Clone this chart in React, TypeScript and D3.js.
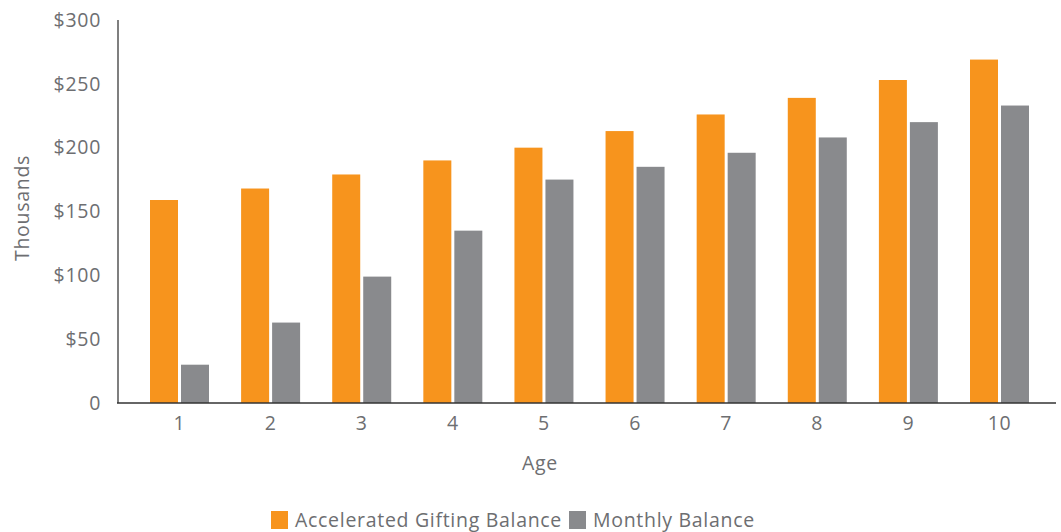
import React from "react";
import * as d3 from "d3";

const ages = ["1", "2", "3", "4", "5", "6", "7", "8", "9", "10"];
const acceleratedBalance = [159, 168, 179, 190, 200, 213, 226, 239, 253, 269];
const monthlyBalance = [30, 63, 99, 135, 175, 185, 196, 208, 220, 233];
const yTicks = [0, 50, 100, 150, 200, 250, 300];
const seriesNames = ["Accelerated Gifting Balance", "Monthly Balance"];
const seriesColors = ["#F7941D", "#898A8D"];

const W = 1061;
const H = 532;
const textColor = "#6D6E71";
const font = "'Open Sans', sans-serif";
const fs = 19.5;

const App = () => {
  const x = d3.scaleBand().domain(ages).range([118, 1061]).paddingInner(0).paddingOuter(0.175);
  const y = d3.scaleLinear().domain([0, 300]).range([403, 20]);
  const barW = 28;
  const gap = 3;

  const series = [acceleratedBalance, monthlyBalance];

  return (
    <svg width={W} height={H} style={{ position: "absolute", left: 0, top: 0 }} fontFamily={font} letterSpacing={0.7}>
      {yTicks.map((t) => (
        <text key={t} x={101} y={y(t)} dy="0.35em" textAnchor="end" fontSize={fs} fill={textColor}>
          {t === 0 ? "0" : `$${t}`}
        </text>
      ))}
      {ages.map((a, i) => {
        const c = (x(a) as number) + x.bandwidth() / 2;
        return (
          <g key={a}>
            {series.map((s, k) => (
              <rect
                key={k}
                x={k === 0 ? c - gap / 2 - barW : c + gap / 2}
                y={y(s[i])}
                width={barW}
                height={y(0) - y(s[i])}
                fill={seriesColors[k]}
              />
            ))}
            <text x={c} y={430} textAnchor="middle" fontSize={fs} fill={textColor}>{a}</text>
          </g>
        );
      })}
      <line x1={118} x2={118} y1={20} y2={403} stroke="#555" strokeWidth={1.5} />
      <line x1={117} x2={1056} y1={403} y2={403} stroke="#333" strokeWidth={1.5} />
      <text x={540} y={470} textAnchor="middle" fontSize={fs} fill={textColor}>Age</text>
      <text transform="translate(29,208) rotate(-90)" textAnchor="middle" fontSize={fs} fill={textColor}>Thousands</text>
      {seriesNames.map((n, k) => {
        const lx = k === 0 ? 271 : 569;
        return (
          <g key={n}>
            <rect x={lx} y={511} width={17} height={18} fill={seriesColors[k]} />
            <text x={lx + 24} y={527} fontSize={fs} fill={textColor}>{n}</text>
          </g>
        );
      })}
    </svg>
  );
};

export default App;
